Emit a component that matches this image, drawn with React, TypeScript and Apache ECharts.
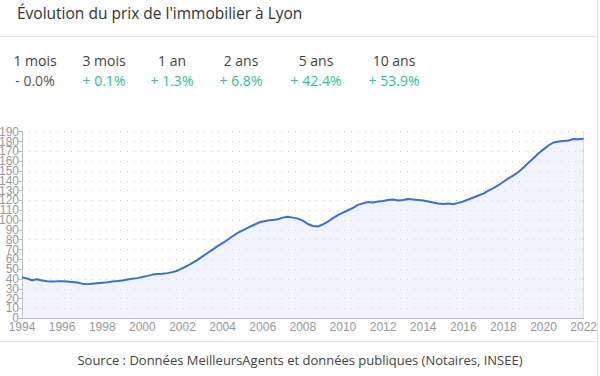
import React, { useEffect, useRef } from "react";
import * as echarts from "echarts";

const title = "Évolution du prix de l'immobilier à Lyon";
const periodLabels = ["1 mois", "3 mois", "1 an", "2 ans", "5 ans", "10 ans"];
const periodValues = ["- 0.0%", "+ 0.1%", "+ 1.3%", "+ 6.8%", "+ 42.4%", "+ 53.9%"];
const periodPositive = [false, true, true, true, true, true];
const sourceText = "Source : Données MeilleursAgents et données publiques (Notaires, INSEE)";

const startYear = 1994;
// quarterly price index, 1994 Q1 .. 2022 Q1
const prices: number[] = [
  41.5, 40.5, 38.8, 39.8,
  38.5, 37.8, 37.5, 37.6,
  37.8, 37.5, 37.0, 36.5,
  35.3, 34.8, 35.3, 35.8,
  36.3, 36.8, 37.4, 37.9,
  38.5, 39.4, 40.2, 40.9,
  42.0, 43.2, 44.5, 45.0,
  45.3, 46.0, 47.0, 48.5,
  51.0, 53.5, 56.5, 59.5,
  63.0, 66.5, 70.0, 73.5,
  76.5, 80.0, 83.5, 87.0,
  89.5, 92.0, 94.5, 97.0,
  98.5, 99.5, 100.2, 100.8,
  102.5, 103.5, 102.5, 101.5,
  99.5, 96.0, 94.0, 93.5,
  95.5, 98.5, 102.0, 105.0,
  107.5, 110.0, 112.5, 115.5,
  117.0, 118.5, 118.0, 119.0,
  119.5, 120.5, 121.0, 120.0,
  120.5, 121.5, 121.0, 120.5,
  120.0, 119.0, 118.0, 117.0,
  116.5, 117.0, 116.2, 117.5,
  119.0, 121.0, 123.0, 125.0,
  127.0, 130.0, 132.5, 135.5,
  139.0, 142.5, 145.5, 149.0,
  153.5, 158.5, 163.0, 168.0,
  172.0, 176.0, 179.0, 180.0,
  180.5, 181.0, 182.5, 182.2,
  182.8,
];

const xMin = 1994;
const xMax = 2022;
const xInterval = 2;
const yMin = 0;
const yMax = 190;
const yInterval = 10;
const yTickLabels = [0, 10, 20, 30, 40, 50, 60, 70, 80, 90, 100, 110, 120, 130, 140, 150, 160, 170, 180, 190];

const statCenters = [35, 104, 172, 241, 316, 394];

export default function App() {
  const ref = useRef<HTMLDivElement>(null);
  useEffect(() => {
    if (!ref.current) return;
    const chart = echarts.init(ref.current, undefined, { renderer: "svg" });
    const seriesData = prices.map((v, i) => [startYear + i * 0.25, v]);
    const axisFont = "'Liberation Sans', Arial, sans-serif";
    const uiFont = "'Open Sans', sans-serif";
    const graphics: any[] = [
      {
        type: "text",
        x: 17,
        y: 13,
        style: {
          text: title,
          font: `500 15.5px ${uiFont}`,
          fill: "#333",
          textVerticalAlign: "middle",
        },
      },
      {
        type: "line",
        shape: { x1: 0, y1: 36.5, x2: 597, y2: 36.5 },
        style: { stroke: "#e6e6e6", lineWidth: 1 },
      },
      {
        type: "line",
        shape: { x1: 597.5, y1: 0, x2: 597.5, y2: 376 },
        style: { stroke: "#e3e3e3", lineWidth: 1 },
      },
      {
        type: "line",
        shape: { x1: 0, y1: 341.5, x2: 597, y2: 341.5 },
        style: { stroke: "#e6e6e6", lineWidth: 1 },
      },
      {
        type: "text",
        x: 300,
        y: 360,
        style: {
          text: sourceText,
          font: `13px ${uiFont}`,
          fill: "#444",
          textAlign: "center",
          textVerticalAlign: "middle",
        },
      },
    ];
    periodLabels.forEach((lab, i) => {
      graphics.push({
        type: "text",
        x: statCenters[i],
        y: 60,
        style: {
          text: lab,
          font: `14px ${uiFont}`,
          fill: "#444",
          textAlign: "center",
          textVerticalAlign: "middle",
        },
      });
      graphics.push({
        type: "text",
        x: statCenters[i],
        y: 80.5,
        style: {
          text: periodValues[i],
          font: `14px ${uiFont}`,
          fill: periodPositive[i] ? "#35c08e" : "#555",
          textAlign: "center",
          textVerticalAlign: "middle",
        },
      });
    });

    chart.setOption({
      animation: false,
      grid: { left: 22, right: 14, top: 131.7, bottom: 57.7, containLabel: false },
      xAxis: {
        type: "value",
        min: xMin,
        max: xMax,
        interval: xInterval,
        axisLine: { show: true, lineStyle: { color: "#bbb" } },
        axisTick: { show: false },
        splitLine: { show: false },
        axisLabel: {
          color: "#999",
          fontFamily: axisFont,
          fontSize: 12,
          margin: 3,
          showMinLabel: true,
          showMaxLabel: true,
          formatter: (v: number) => String(v),
        },
      },
      yAxis: [
        {
          type: "value",
          min: yMin,
          max: yMax,
          interval: yInterval,
          axisLine: { show: true, lineStyle: { color: "#bbb" } },
          axisTick: { show: true, length: 3, lineStyle: { color: "#bbb" } },
          axisLabel: { show: false },
          splitLine: { show: true, lineStyle: { color: "#cfcfcf", type: [1, 6], width: 1 } },
        },
        {
          type: "value",
          position: "right",
          min: yMin,
          max: yMax,
          interval: yInterval,
          axisLine: { show: true, lineStyle: { color: "#e4e4e4" } },
          axisTick: { show: false },
          axisLabel: { show: false },
          splitLine: { show: false },
        },
      ],
      series: [
        {
          type: "line",
          data: seriesData,
          showSymbol: false,
          smooth: false,
          lineStyle: { color: "#3b70d2", width: 2 },
          areaStyle: { color: "rgba(210,220,245,0.45)" },
        },
      ],
      graphic: graphics,
    });

    const yLabelGraphics = yTickLabels.map((v) => {
      const py = chart.convertToPixel({ yAxisIndex: 0 }, v) as number;
      return {
        type: "text",
        x: 19,
        y: py,
        style: {
          text: String(v),
          font: `12px ${axisFont}`,
          fill: "#999",
          textAlign: "right",
          textVerticalAlign: "middle",
        },
      };
    });
    chart.setOption({ graphic: [...graphics, ...yLabelGraphics] });

    return () => chart.dispose();
  }, []);
  return (
    <div
      ref={ref}
      style={{ position: "absolute", left: 0, top: 0, width: 600, height: 376, background: "#fff" }}
    />
  );
}
